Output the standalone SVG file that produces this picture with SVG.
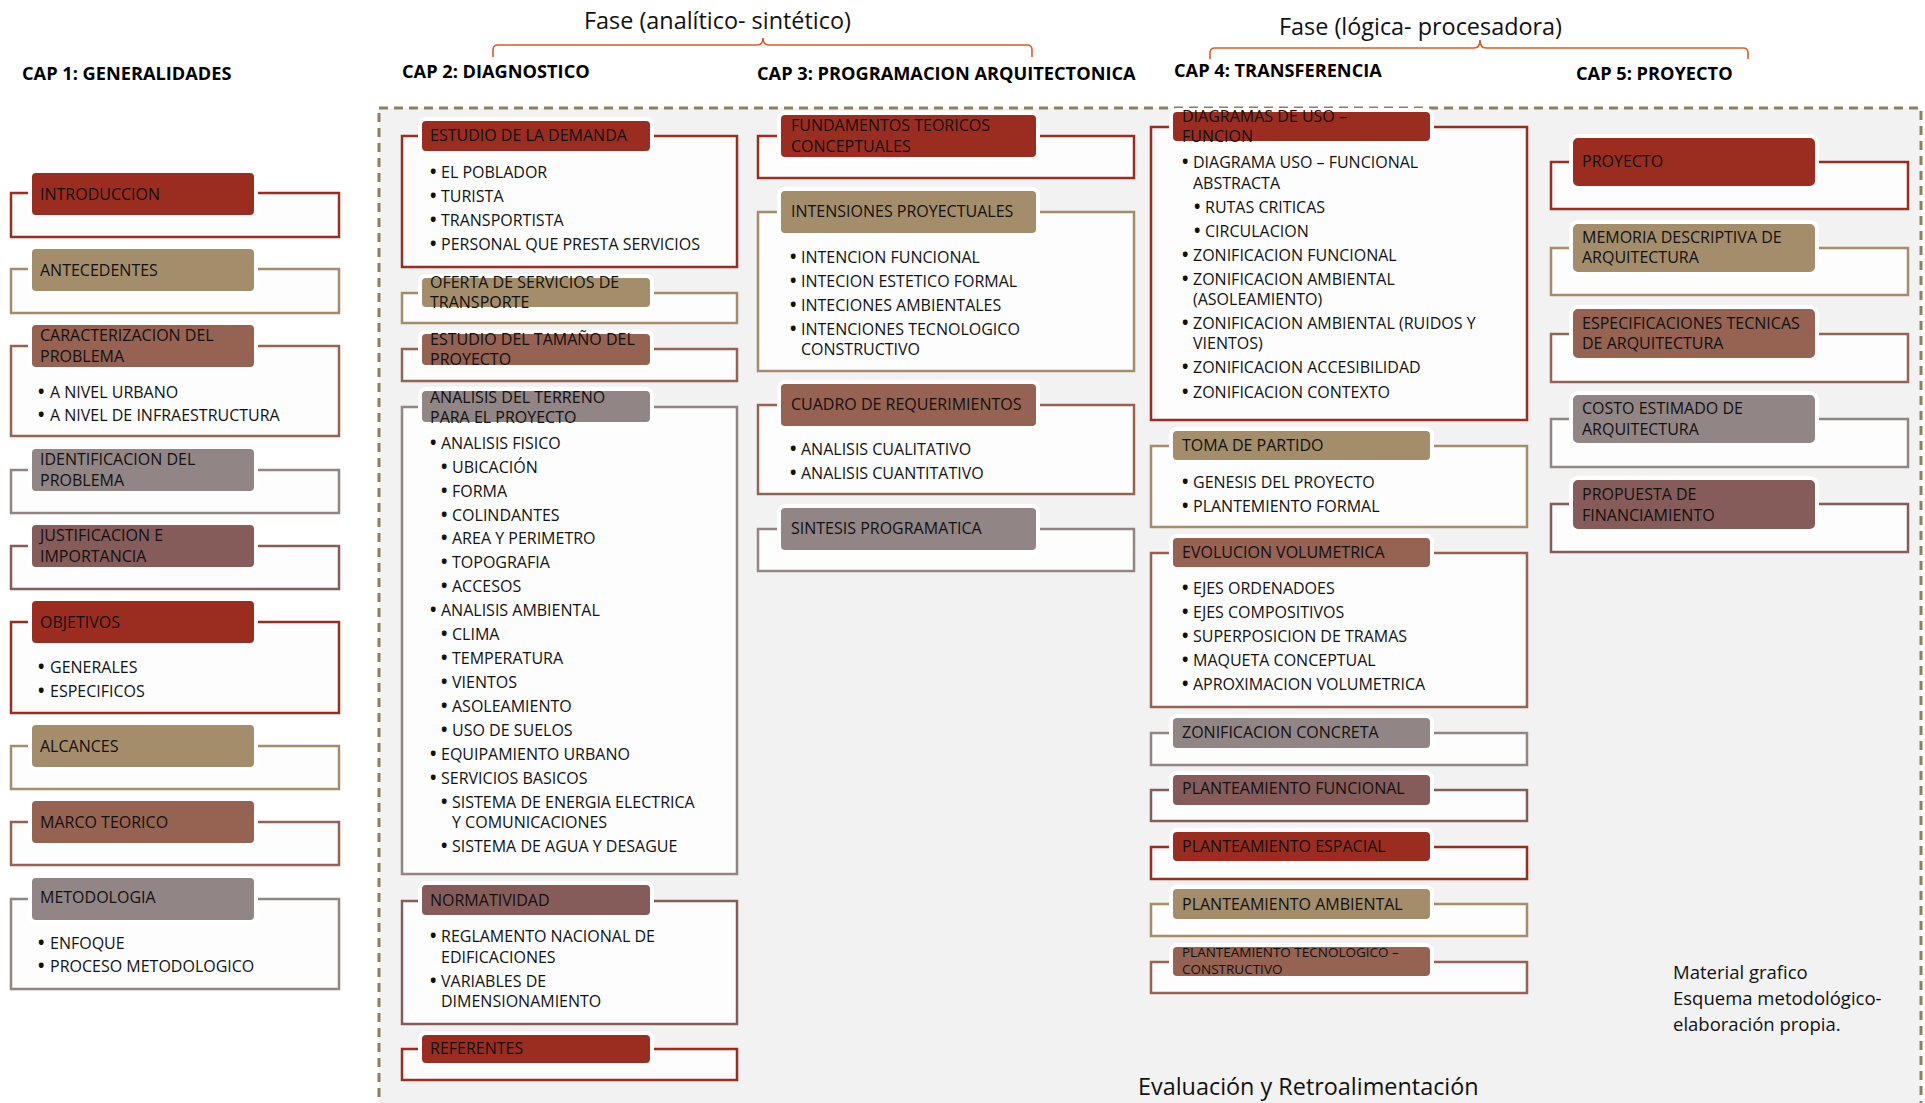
<svg xmlns="http://www.w3.org/2000/svg" width="1925" height="1103" viewBox="0 0 1925 1103">
  <defs>
    <style>
      text{font-family:"Open Sans","Noto Sans",sans-serif;font-size:16px;fill:#111}
      .ttl{font-weight:bold;font-size:18.2px;fill:#000}
      .phase{font-size:23.4px;fill:#111}
      .note{font-size:18.5px;fill:#111}
      .eval{font-size:23.4px;fill:#111}
      .sm{font-size:13.5px}
      .b{font-weight:bold;font-size:17px}
      .box{fill:#fdfdfd;stroke-width:2.5}
      .hd{stroke:#fff;stroke-width:4}
      .brace{fill:none;stroke:#DF5A2C;stroke-width:1.6}
      .frame{fill:#F2F2F2;stroke:#8F7F5C;stroke-width:3;stroke-dasharray:9 6}
      .c1 .box{stroke:#9B2D20}.c1 .hd{fill:#9B2D20}
      .c2 .box{stroke:#A48D6B}.c2 .hd{fill:#A48D6B}
      .c3 .box{stroke:#966252}.c3 .hd{fill:#966252}
      .c4 .box{stroke:#928585}.c4 .hd{fill:#928585}
      .c5 .box{stroke:#865C5B}.c5 .hd{fill:#865C5B}
    </style>
  </defs>

  <rect width="1925" height="1103" fill="#fff"/>

  <!-- dashed working area for chapters 2-5 -->
  <rect class="frame" x="379" y="108" width="1542" height="1015"/>

  <!-- phase headings and braces -->
  <g id="phases">
    <text class="phase" x="584" y="29">Fase (analítico- sintético)</text>
    <text class="phase" x="1279" y="35">Fase (lógica- procesadora)</text>
  </g>
  <g id="connectors">
    <path class="brace" d="M493,57 L493,50 Q493,45 498,45 L757,45 Q763,45 763,38 Q763,45 769,45 L1027,45 Q1032,45 1032,50 L1032,57"/>
    <path class="brace" d="M1210,59 L1210,53 Q1210,48 1215,48 L1474,48 Q1480,48 1480,40 Q1480,48 1486,48 L1743,48 Q1748,48 1748,53 L1748,59"/>
  </g>

  <!-- chapter titles -->
  <g id="titles">
    <text class="ttl" x="22" y="80">CAP 1: GENERALIDADES</text>
    <text class="ttl" x="402" y="78">CAP 2: DIAGNOSTICO</text>
    <text class="ttl" x="757" y="80">CAP 3: PROGRAMACION ARQUITECTONICA</text>
    <text class="ttl" x="1174" y="77">CAP 4: TRANSFERENCIA</text>
    <text class="ttl" x="1576" y="80">CAP 5: PROYECTO</text>
  </g>

  <!-- ===== CAP 1 ===== -->
  <g id="cap1-introduccion" class="c1">
    <rect class="box" x="11" y="193" width="328" height="44"/>
    <rect class="hd" x="30" y="171" width="226" height="46" rx="6"/>
    <text x="40" y="200">INTRODUCCION</text>
  </g>
  <g id="cap1-antecedentes" class="c2">
    <rect class="box" x="11" y="269" width="328" height="44"/>
    <rect class="hd" x="30" y="247" width="226" height="46" rx="6"/>
    <text x="40" y="276">ANTECEDENTES</text>
  </g>
  <g id="cap1-caracterizacion" class="c3">
    <rect class="box" x="11" y="346" width="328" height="90"/>
    <rect class="hd" x="30" y="323" width="226" height="46" rx="6"/>
    <text x="40" y="341">CARACTERIZACION DEL</text>
    <text x="40" y="362">PROBLEMA</text>
    <text y="398"><tspan class="b" x="38">•</tspan><tspan x="50">A NIVEL URBANO</tspan></text>
    <text y="421"><tspan class="b" x="38">•</tspan><tspan x="50">A NIVEL DE INFRAESTRUCTURA</tspan></text>
  </g>
  <g id="cap1-identificacion" class="c4">
    <rect class="box" x="11" y="470" width="328" height="43"/>
    <rect class="hd" x="30" y="447" width="226" height="46" rx="6"/>
    <text x="40" y="465">IDENTIFICACION DEL</text>
    <text x="40" y="486">PROBLEMA</text>
  </g>
  <g id="cap1-justificacion" class="c5">
    <rect class="box" x="11" y="546" width="328" height="43"/>
    <rect class="hd" x="30" y="523" width="226" height="46" rx="6"/>
    <text x="40" y="541">JUSTIFICACION E</text>
    <text x="40" y="562">IMPORTANCIA</text>
  </g>
  <g id="cap1-objetivos" class="c1">
    <rect class="box" x="11" y="622" width="328" height="91"/>
    <rect class="hd" x="30" y="599" width="226" height="46" rx="6"/>
    <text x="40" y="628">OBJETIVOS</text>
    <text y="673"><tspan class="b" x="38">•</tspan><tspan x="50">GENERALES</tspan></text>
    <text y="697"><tspan class="b" x="38">•</tspan><tspan x="50">ESPECIFICOS</tspan></text>
  </g>
  <g id="cap1-alcances" class="c2">
    <rect class="box" x="11" y="746" width="328" height="43"/>
    <rect class="hd" x="30" y="723" width="226" height="46" rx="6"/>
    <text x="40" y="752">ALCANCES</text>
  </g>
  <g id="cap1-marco" class="c3">
    <rect class="box" x="11" y="822" width="328" height="43"/>
    <rect class="hd" x="30" y="799" width="226" height="46" rx="6"/>
    <text x="40" y="828">MARCO TEORICO</text>
  </g>
  <g id="cap1-metodologia" class="c4">
    <rect class="box" x="11" y="899" width="328" height="90"/>
    <rect class="hd" x="30" y="876" width="226" height="46" rx="6"/>
    <text x="40" y="903">METODOLOGIA</text>
    <text y="949"><tspan class="b" x="38">•</tspan><tspan x="50">ENFOQUE</tspan></text>
    <text y="972"><tspan class="b" x="38">•</tspan><tspan x="50">PROCESO METODOLOGICO</tspan></text>
  </g>

  <!-- ===== CAP 2 ===== -->
  <g id="cap2-demanda" class="c1">
    <rect class="box" x="402" y="136" width="335" height="131"/>
    <rect class="hd" x="420" y="119" width="232" height="34" rx="6"/>
    <text x="430" y="141">ESTUDIO DE LA DEMANDA</text>
    <text y="178"><tspan class="b" x="430">•</tspan><tspan x="441">EL POBLADOR</tspan></text>
    <text y="202"><tspan class="b" x="430">•</tspan><tspan x="441">TURISTA</tspan></text>
    <text y="226"><tspan class="b" x="430">•</tspan><tspan x="441">TRANSPORTISTA</tspan></text>
    <text y="250"><tspan class="b" x="430">•</tspan><tspan x="441">PERSONAL QUE PRESTA SERVICIOS</tspan></text>
  </g>
  <g id="cap2-oferta" class="c2">
    <rect class="box" x="402" y="293" width="335" height="30"/>
    <rect class="hd" x="420" y="276" width="232" height="33" rx="6"/>
    <text x="430" y="288">OFERTA DE SERVICIOS DE</text>
    <text x="430" y="308">TRANSPORTE</text>
  </g>
  <g id="cap2-tamano" class="c3">
    <rect class="box" x="402" y="349" width="335" height="32"/>
    <rect class="hd" x="420" y="332" width="232" height="35" rx="6"/>
    <text x="430" y="345">ESTUDIO DEL TAMAÑO DEL</text>
    <text x="430" y="365">PROYECTO</text>
  </g>
  <g id="cap2-terreno" class="c4">
    <rect class="box" x="402" y="407" width="335" height="467"/>
    <rect class="hd" x="420" y="389" width="232" height="35" rx="6"/>
    <text x="430" y="403">ANALISIS DEL TERRENO</text>
    <text x="430" y="423">PARA EL PROYECTO</text>
    <text y="449"><tspan class="b" x="430">•</tspan><tspan x="441">ANALISIS FISICO</tspan></text>
    <text y="473"><tspan class="b" x="441">•</tspan><tspan x="452">UBICACIÓN</tspan></text>
    <text y="497"><tspan class="b" x="441">•</tspan><tspan x="452">FORMA</tspan></text>
    <text y="521"><tspan class="b" x="441">•</tspan><tspan x="452">COLINDANTES</tspan></text>
    <text y="544"><tspan class="b" x="441">•</tspan><tspan x="452">AREA Y PERIMETRO</tspan></text>
    <text y="568"><tspan class="b" x="441">•</tspan><tspan x="452">TOPOGRAFIA</tspan></text>
    <text y="592"><tspan class="b" x="441">•</tspan><tspan x="452">ACCESOS</tspan></text>
    <text y="616"><tspan class="b" x="430">•</tspan><tspan x="441">ANALISIS AMBIENTAL</tspan></text>
    <text y="640"><tspan class="b" x="441">•</tspan><tspan x="452">CLIMA</tspan></text>
    <text y="664"><tspan class="b" x="441">•</tspan><tspan x="452">TEMPERATURA</tspan></text>
    <text y="688"><tspan class="b" x="441">•</tspan><tspan x="452">VIENTOS</tspan></text>
    <text y="712"><tspan class="b" x="441">•</tspan><tspan x="452">ASOLEAMIENTO</tspan></text>
    <text y="736"><tspan class="b" x="441">•</tspan><tspan x="452">USO DE SUELOS</tspan></text>
    <text y="760"><tspan class="b" x="430">•</tspan><tspan x="441">EQUIPAMIENTO URBANO</tspan></text>
    <text y="784"><tspan class="b" x="430">•</tspan><tspan x="441">SERVICIOS BASICOS</tspan></text>
    <text y="808"><tspan class="b" x="441">•</tspan><tspan x="452">SISTEMA DE ENERGIA ELECTRICA</tspan></text>
    <text x="452" y="828">Y COMUNICACIONES</text>
    <text y="852"><tspan class="b" x="441">•</tspan><tspan x="452">SISTEMA DE AGUA Y DESAGUE</tspan></text>
  </g>
  <g id="cap2-normatividad" class="c5">
    <rect class="box" x="402" y="901" width="335" height="123"/>
    <rect class="hd" x="420" y="883" width="232" height="34" rx="6"/>
    <text x="430" y="906">NORMATIVIDAD</text>
    <text y="942"><tspan class="b" x="430">•</tspan><tspan x="441">REGLAMENTO NACIONAL DE</tspan></text>
    <text x="441" y="963">EDIFICACIONES</text>
    <text y="987"><tspan class="b" x="430">•</tspan><tspan x="441">VARIABLES DE</tspan></text>
    <text x="441" y="1007">DIMENSIONAMIENTO</text>
  </g>
  <g id="cap2-referentes" class="c1">
    <rect class="box" x="402" y="1049" width="335" height="31"/>
    <rect class="hd" x="420" y="1033" width="232" height="32" rx="6"/>
    <text x="430" y="1054">REFERENTES</text>
  </g>

  <!-- ===== CAP 3 ===== -->
  <g id="cap3-fundamentos" class="c1">
    <rect class="box" x="758" y="136" width="376" height="42"/>
    <rect class="hd" x="779" y="113" width="259" height="46" rx="6"/>
    <text x="791" y="131">FUNDAMENTOS TEORICOS</text>
    <text x="791" y="152">CONCEPTUALES</text>
  </g>
  <g id="cap3-intensiones" class="c2">
    <rect class="box" x="758" y="212" width="376" height="159"/>
    <rect class="hd" x="779" y="189" width="259" height="46" rx="6"/>
    <text x="791" y="217">INTENSIONES PROYECTUALES</text>
    <text y="263"><tspan class="b" x="790">•</tspan><tspan x="801">INTENCION FUNCIONAL</tspan></text>
    <text y="287"><tspan class="b" x="790">•</tspan><tspan x="801">INTECION ESTETICO FORMAL</tspan></text>
    <text y="311"><tspan class="b" x="790">•</tspan><tspan x="801">INTECIONES AMBIENTALES</tspan></text>
    <text y="335"><tspan class="b" x="790">•</tspan><tspan x="801">INTENCIONES TECNOLOGICO</tspan></text>
    <text x="801" y="355">CONSTRUCTIVO</text>
  </g>
  <g id="cap3-cuadro" class="c3">
    <rect class="box" x="758" y="405" width="376" height="89"/>
    <rect class="hd" x="779" y="382" width="259" height="46" rx="6"/>
    <text x="791" y="410">CUADRO DE REQUERIMIENTOS</text>
    <text y="455"><tspan class="b" x="790">•</tspan><tspan x="801">ANALISIS CUALITATIVO</tspan></text>
    <text y="479"><tspan class="b" x="790">•</tspan><tspan x="801">ANALISIS CUANTITATIVO</tspan></text>
  </g>
  <g id="cap3-sintesis" class="c4">
    <rect class="box" x="758" y="529" width="376" height="42"/>
    <rect class="hd" x="779" y="506" width="259" height="46" rx="6"/>
    <text x="791" y="534">SINTESIS PROGRAMATICA</text>
  </g>

  <!-- ===== CAP 4 ===== -->
  <g id="cap4-diagramas" class="c1">
    <rect class="box" x="1151" y="127" width="376" height="293"/>
    <rect class="hd" x="1171" y="110" width="261" height="33" rx="6"/>
    <text x="1182" y="122">DIAGRAMAS DE USO –</text>
    <text x="1182" y="142">FUNCION</text>
    <text y="168"><tspan class="b" x="1182">•</tspan><tspan x="1193">DIAGRAMA USO – FUNCIONAL</tspan></text>
    <text x="1193" y="189">ABSTRACTA</text>
    <text y="213"><tspan class="b" x="1194">•</tspan><tspan x="1205">RUTAS CRITICAS</tspan></text>
    <text y="237"><tspan class="b" x="1194">•</tspan><tspan x="1205">CIRCULACION</tspan></text>
    <text y="261"><tspan class="b" x="1182">•</tspan><tspan x="1193">ZONIFICACION FUNCIONAL</tspan></text>
    <text y="285"><tspan class="b" x="1182">•</tspan><tspan x="1193">ZONIFICACION AMBIENTAL</tspan></text>
    <text x="1193" y="305">(ASOLEAMIENTO)</text>
    <text y="329"><tspan class="b" x="1182">•</tspan><tspan x="1193">ZONIFICACION AMBIENTAL (RUIDOS Y</tspan></text>
    <text x="1193" y="349">VIENTOS)</text>
    <text y="373"><tspan class="b" x="1182">•</tspan><tspan x="1193">ZONIFICACION ACCESIBILIDAD</tspan></text>
    <text y="398"><tspan class="b" x="1182">•</tspan><tspan x="1193">ZONIFICACION CONTEXTO</tspan></text>
  </g>
  <g id="cap4-toma" class="c2">
    <rect class="box" x="1151" y="446" width="376" height="81"/>
    <rect class="hd" x="1171" y="429" width="261" height="33" rx="6"/>
    <text x="1182" y="451">TOMA DE PARTIDO</text>
    <text y="488"><tspan class="b" x="1182">•</tspan><tspan x="1193">GENESIS DEL PROYECTO</tspan></text>
    <text y="512"><tspan class="b" x="1182">•</tspan><tspan x="1193">PLANTEMIENTO FORMAL</tspan></text>
  </g>
  <g id="cap4-evolucion" class="c3">
    <rect class="box" x="1151" y="553" width="376" height="154"/>
    <rect class="hd" x="1171" y="536" width="261" height="33" rx="6"/>
    <text x="1182" y="558">EVOLUCION VOLUMETRICA</text>
    <text y="594"><tspan class="b" x="1182">•</tspan><tspan x="1193">EJES ORDENADOES</tspan></text>
    <text y="618"><tspan class="b" x="1182">•</tspan><tspan x="1193">EJES COMPOSITIVOS</tspan></text>
    <text y="642"><tspan class="b" x="1182">•</tspan><tspan x="1193">SUPERPOSICION DE TRAMAS</tspan></text>
    <text y="666"><tspan class="b" x="1182">•</tspan><tspan x="1193">MAQUETA CONCEPTUAL</tspan></text>
    <text y="690"><tspan class="b" x="1182">•</tspan><tspan x="1193">APROXIMACION VOLUMETRICA</tspan></text>
  </g>
  <g id="cap4-zonificacion" class="c4">
    <rect class="box" x="1151" y="733" width="376" height="32"/>
    <rect class="hd" x="1171" y="716" width="261" height="34" rx="6"/>
    <text x="1182" y="738">ZONIFICACION CONCRETA</text>
  </g>
  <g id="cap4-funcional" class="c5">
    <rect class="box" x="1151" y="790" width="376" height="31"/>
    <rect class="hd" x="1171" y="773" width="261" height="34" rx="6"/>
    <text x="1182" y="794">PLANTEAMIENTO FUNCIONAL</text>
  </g>
  <g id="cap4-espacial" class="c1">
    <rect class="box" x="1151" y="847" width="376" height="32"/>
    <rect class="hd" x="1171" y="830" width="261" height="33" rx="6"/>
    <text x="1182" y="852">PLANTEAMIENTO ESPACIAL</text>
  </g>
  <g id="cap4-ambiental" class="c2">
    <rect class="box" x="1151" y="904" width="376" height="32"/>
    <rect class="hd" x="1171" y="887" width="261" height="34" rx="6"/>
    <text x="1182" y="910">PLANTEAMIENTO AMBIENTAL</text>
  </g>
  <g id="cap4-tecnologico" class="c3">
    <rect class="box" x="1151" y="962" width="376" height="31"/>
    <rect class="hd" x="1171" y="945" width="261" height="33" rx="6"/>
    <text class="sm" x="1182" y="957">PLANTEAMIENTO TECNOLOGICO –</text>
    <text class="sm" x="1182" y="974">CONSTRUCTIVO</text>
  </g>

  <!-- ===== CAP 5 ===== -->
  <g id="cap5-proyecto" class="c1">
    <rect class="box" x="1551" y="162" width="357" height="47"/>
    <rect class="hd" x="1571" y="136" width="246" height="52" rx="7"/>
    <text x="1582" y="167">PROYECTO</text>
  </g>
  <g id="cap5-memoria" class="c2">
    <rect class="box" x="1551" y="248" width="357" height="47"/>
    <rect class="hd" x="1571" y="222" width="246" height="52" rx="7"/>
    <text x="1582" y="243">MEMORIA DESCRIPTIVA DE</text>
    <text x="1582" y="263">ARQUITECTURA</text>
  </g>
  <g id="cap5-especificaciones" class="c3">
    <rect class="box" x="1551" y="334" width="357" height="48"/>
    <rect class="hd" x="1571" y="307" width="246" height="53" rx="7"/>
    <text x="1582" y="329">ESPECIFICACIONES TECNICAS</text>
    <text x="1582" y="349">DE ARQUITECTURA</text>
  </g>
  <g id="cap5-costo" class="c4">
    <rect class="box" x="1551" y="419" width="357" height="48"/>
    <rect class="hd" x="1571" y="393" width="246" height="52" rx="7"/>
    <text x="1582" y="414">COSTO ESTIMADO DE</text>
    <text x="1582" y="435">ARQUITECTURA</text>
  </g>
  <g id="cap5-financiamiento" class="c5">
    <rect class="box" x="1551" y="504" width="357" height="48"/>
    <rect class="hd" x="1571" y="478" width="246" height="53" rx="7"/>
    <text x="1582" y="500">PROPUESTA DE</text>
    <text x="1582" y="521">FINANCIAMIENTO</text>
  </g>

  <!-- notes -->
  <g id="notes">
    <text class="note" x="1673" y="979">Material grafico</text>
    <text class="note" x="1673" y="1005">Esquema metodológico-</text>
    <text class="note" x="1673" y="1031">elaboración propia.</text>
    <text class="eval" x="1138" y="1095">Evaluación y Retroalimentación</text>
  </g>
</svg>
